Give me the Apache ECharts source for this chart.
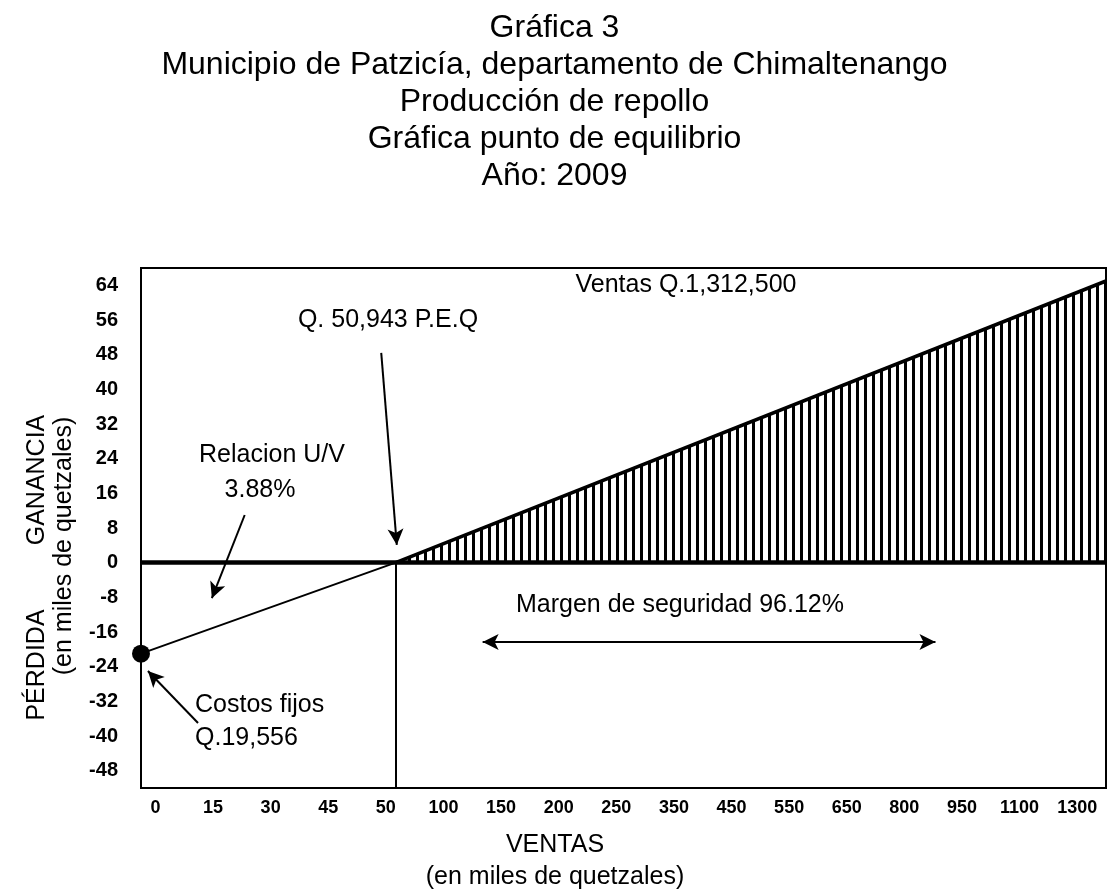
<!DOCTYPE html>
<html>
<head>
<meta charset="utf-8">
<script src="https://cdn.jsdelivr.net/npm/echarts@6/dist/echarts.min.js"></script>
<style>
html, body { margin: 0; padding: 0; background: #fff; }
#chart { width: 1109px; height: 890px; }
</style>
</head>
<body>
<div id="chart"></div>
<script>
// Grafica punto de equilibrio - produccion de repollo, Patzicia 2009

// x axis: one label per position (en miles de quetzales)
var ventasLabels = ['0', '15', '30', '45', '50', '100', '150', '200', '250', '350', '450', '550', '650', '800', '950', '1100', '1300'];

// profit line, x = position on the sales axis, y = miles de quetzales
var lineaX = [-0.25, 4.17, 16.5];
var lineaY = [-21, 0, 65];

// break even position and fixed costs
var peqX = 4.17;
var costosFijos = -21;

// annotation arrows [x1, y1, x2, y2] in axis units
var flechaRelacion = [1.55, 11, 0.98, -8.2];
var flechaPeq = [3.92, 48.4, 4.19, 4.1];
var flechaCostos = [0.74, -37, -0.13, -25];
var flechaMargen = [5.68, -18.3, 13.54, -18.3];

var titulo = [
    'Gráfica 3',
    'Municipio de Patzicía, departamento de Chimaltenango',
    'Producción de repollo',
    'Gráfica punto de equilibrio',
    'Año: 2009'
];

var chart = echarts.init(document.getElementById('chart'));

// vertical hatch for the profit zone
var hatch = document.createElement('canvas');
hatch.width = 8;
hatch.height = 8;
var hctx = hatch.getContext('2d');
hctx.fillStyle = '#000';
hctx.fillRect(0, 0, 3, 8);

function flecha(a, doble) {
    return [
        { coord: [a[0], a[1]], symbol: doble ? 'arrow' : 'none' },
        { coord: [a[2], a[3]], symbol: 'arrow' }
    ];
}

var fuente = '"Liberation Sans", Arial, sans-serif';
var txt = function (text, x, y, align, rot) {
    return {
        type: 'text', x: x, y: y, rotation: rot || 0, z: 10,
        style: {
            text: text, fill: '#000', align: align || 'center', verticalAlign: 'middle',
            font: '25px ' + fuente
        }
    };
};

var option = {
    animation: false,
    backgroundColor: '#fff',
    title: {
        text: titulo.join('\n'),
        left: 'center',
        top: 5,
        textStyle: {
            fontFamily: fuente,
            fontSize: 32,
            fontWeight: 'normal',
            lineHeight: 37,
            color: '#000'
        }
    },
    grid: {
        left: 141,
        right: -1,
        top: 268,
        bottom: 102,
        show: true,
        borderColor: '#000',
        borderWidth: 2
    },
    xAxis: {
        type: 'value',
        min: -0.25,
        max: 16.5,
        interval: 0.25,
        axisLine: { show: false },
        axisTick: { show: false },
        splitLine: { show: false },
        axisLabel: {
            margin: 11,
            color: '#000',
            fontFamily: fuente,
            fontSize: 18,
            fontWeight: 'bold',
            formatter: function (v) {
                var i = Math.round(v);
                return Math.abs(v - i) < 1e-6 && ventasLabels[i] !== undefined ? ventasLabels[i] : '';
            }
        }
    },
    yAxis: {
        type: 'value',
        min: -52,
        max: 68,
        interval: 4,
        axisLine: { show: false },
        axisTick: { show: false },
        splitLine: { show: false },
        axisLabel: {
            margin: 23,
            color: '#000',
            fontFamily: fuente,
            fontSize: 20,
            fontWeight: 'bold',
            formatter: function (v) {
                return v % 8 === 0 && v >= -48 && v <= 64 ? String(v) : '';
            }
        }
    },
    graphic: [
        txt('Q. 50,943 P.E.Q', 388, 320),
        txt('Ventas Q.1,312,500', 686, 285),
        txt('Relacion U/V', 272, 455),
        txt('3.88%', 260, 490),
        txt('Costos fijos', 195, 705, 'left'),
        txt('Q.19,556', 195, 738, 'left'),
        txt('Margen de seguridad 96.12%', 680, 605),
        txt('VENTAS', 555, 845),
        txt('(en miles de quetzales)', 555, 877),
        txt('GANANCIA', 37, 480, 'center', Math.PI / 2),
        txt('PÉRDIDA', 37, 665, 'center', Math.PI / 2),
        txt('(en miles de quetzales)', 64, 546, 'center', Math.PI / 2)
    ],
    series: [
        {
            name: 'Utilidad',
            type: 'line',
            data: lineaX.map(function (x, i) { return [x, lineaY[i]]; }),
            symbol: 'none',
            lineStyle: { color: '#000', width: 2 },
            z: 4,
            markLine: {
                silent: true,
                symbol: ['none', 'arrow'],
                symbolSize: [12, 16],
                label: { show: false },
                lineStyle: { color: '#000', width: 2, type: 'solid' },
                data: [
                    [{ coord: [-0.25, 0], symbol: 'none' }, { coord: [16.5, 0], symbol: 'none', lineStyle: { width: 4.5 } }],
                    [{ coord: [peqX, 0], symbol: 'none' }, { coord: [peqX, -52], symbol: 'none' }],
                    flecha(flechaRelacion),
                    flecha(flechaPeq),
                    flecha(flechaCostos),
                    flecha(flechaMargen, true)
                ]
            }
        },
        {
            name: 'Margen',
            type: 'line',
            data: lineaX.slice(1).map(function (x, i) { return [x, lineaY[i + 1]]; }),
            symbol: 'none',
            lineStyle: { color: '#000', width: 3.5 },
            areaStyle: { origin: 0, color: { image: hatch, repeat: 'repeat' }, opacity: 1 },
            z: 3
        },
        {
            name: 'Costos fijos',
            type: 'scatter',
            data: [[-0.25, costosFijos]],
            symbolSize: 18,
            clip: false,
            itemStyle: { color: '#000', opacity: 1 },
            z: 6
        }
    ]
};

chart.setOption(option);
</script>
</body>
</html>
